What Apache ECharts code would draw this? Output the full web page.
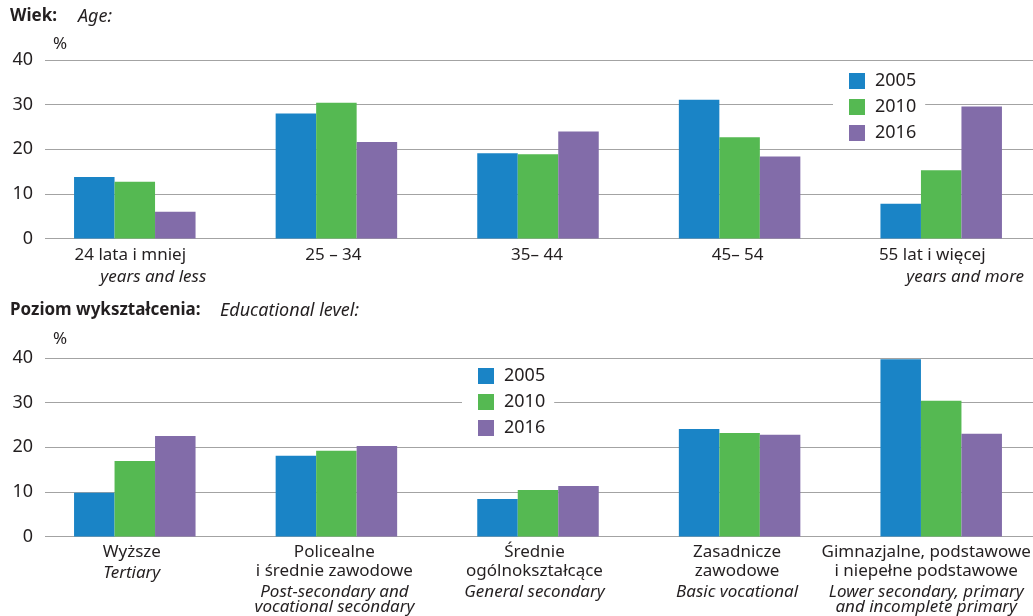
<!DOCTYPE html>
<html>
<head>
<meta charset="utf-8">
<script src="https://cdn.jsdelivr.net/npm/echarts@6/dist/echarts.min.js"></script>
<style>
html,body{margin:0;padding:0;background:#fff;}
#chart{width:1033px;height:616px;}
</style>
</head>
<body>
<div id="chart"></div>
<script>
// ---- data ----
const seriesNames = ['2005', '2010', '2016'];
const yTicks = [0, 10, 20, 30, 40];

const ageLabelsPl = ['24 lata i mniej', '25 – 34', '35– 44', '45– 54', '55 lat i więcej'];
const ageLabelsEn = [['years and less'], [], [], [], ['years and more']];
const age2005 = [13.8, 28.0, 19.1, 31.1, 7.8];
const age2010 = [12.7, 30.4, 18.9, 22.7, 15.3];
const age2016 = [6.0, 21.6, 24.0, 18.4, 29.6];

const eduLabelsPl = [['Wyższe'], ['Policealne', 'i średnie zawodowe'], ['Średnie', 'ogólnokształcące'], ['Zasadnicze', 'zawodowe'], ['Gimnazjalne, podstawowe', 'i niepełne podstawowe']];
const eduLabelsEn = [['Tertiary'], ['Post-secondary and', 'vocational secondary'], ['General secondary'], ['Basic vocational'], ['Lower secondary, primary', 'and incomplete primary']];
const edu2005 = [9.8, 18.1, 8.4, 24.1, 39.7];
const edu2010 = [16.9, 19.2, 10.4, 23.2, 30.4];
const edu2016 = [22.5, 20.3, 11.3, 22.8, 23.0];

// ---- styling ----
const colors = ['#1a84c6', '#55b952', '#826ca9'];
const FONT = '"Noto Sans", sans-serif';
const TXT = '#231f20';
const GRID_LINE = '#a3a3a3';

const topRegShift = [-4.5, -3, -1, -2, -9];
const topItShift = [18.5, 0, 0, 0, 24];
const botShift = [-3, -2, -3.5, -2.5, -15];

function pad(d) { return d < 0 ? [0, -2 * d, 0, 0] : [0, 0, 0, 2 * d]; }

const topRich = {}, botRich = {};
for (let i = 0; i < 5; i++) {
  topRich['r' + i] = { fontFamily: FONT, fontSize: 17, color: TXT, lineHeight: 19, padding: pad(topRegShift[i]) };
  topRich['a' + i] = { fontFamily: FONT, fontSize: 17, color: TXT, fontStyle: 'italic', lineHeight: 26, padding: pad(topItShift[i]) };
  botRich['r' + i] = { fontFamily: FONT, fontSize: 17, color: TXT, lineHeight: 19, padding: pad(botShift[i]) };
  botRich['a' + i] = { fontFamily: FONT, fontSize: 17, color: TXT, fontStyle: 'italic', lineHeight: 24, padding: pad(botShift[i]) };
  botRich['b' + i] = { fontFamily: FONT, fontSize: 17, color: TXT, fontStyle: 'italic', lineHeight: 6, padding: pad(botShift[i]) };
}

function topFormatter(v, idx) {
  const lines = ['{r' + idx + '|' + ageLabelsPl[idx] + '}'];
  ageLabelsEn[idx].forEach(t => lines.push('{a' + idx + '|' + t + '}'));
  return lines.join('\n');
}
function botFormatter(v, idx) {
  const lines = eduLabelsPl[idx].map(t => '{r' + idx + '|' + t + '}');
  eduLabelsEn[idx].forEach((t, k) => lines.push('{' + (k === 0 ? 'a' : 'b') + idx + '|' + t + '}'));
  return lines.join('\n');
}

const PLOT_TOP = [60, 358];
const PLOT_H = 178.5;

const grids = [];
const xAxes = [];
const yAxes = [];
[0, 1].forEach(c => {
  grids.push({ left: 45, right: 0, top: PLOT_TOP[c], height: PLOT_H, containLabel: false, outerBoundsMode: 'none' });
  grids.push({ left: 34, width: 1008, top: PLOT_TOP[c], height: PLOT_H, containLabel: false, outerBoundsMode: 'none' });
});
[0, 2].forEach(g => {
  xAxes.push({ type: 'value', gridIndex: g, show: false, min: 0, max: 1 });
  yAxes.push({
    type: 'value', gridIndex: g, min: yTicks[0], max: yTicks[yTicks.length - 1], interval: 10,
    axisLine: { show: false }, axisTick: { show: false },
    axisLabel: { margin: 12, fontFamily: FONT, fontSize: 18, color: TXT },
    splitLine: { lineStyle: { color: GRID_LINE, width: 1 } }
  });
});
xAxes.push({
  type: 'category', gridIndex: 1, data: ageLabelsPl,
  axisLine: { show: false }, axisTick: { show: false },
  axisLabel: { interval: 0, margin: 7, formatter: topFormatter, rich: topRich, color: TXT, hideOverlap: false }
});
yAxes.push({ type: 'value', gridIndex: 1, min: 0, max: 40, show: false, splitLine: { show: false } });
xAxes.push({
  type: 'category', gridIndex: 3, data: eduLabelsPl.map(l => l.join(' ')),
  axisLine: { show: false }, axisTick: { show: false },
  axisLabel: { interval: 0, margin: 6, formatter: botFormatter, rich: botRich, color: TXT, hideOverlap: false }
});
yAxes.push({ type: 'value', gridIndex: 3, min: 0, max: 40, show: false, splitLine: { show: false } });

function bars(name, data, xi, yi, ci) {
  return {
    type: 'bar', name: name, data: data, xAxisIndex: xi, yAxisIndex: yi,
    barWidth: 40.5, barGap: '0%', itemStyle: { color: colors[ci] }, silent: true, animation: false
  };
}

const series = [
  bars(seriesNames[0], age2005, 2, 2, 0),
  bars(seriesNames[1], age2010, 2, 2, 1),
  bars(seriesNames[2], age2016, 2, 2, 2),
  bars(seriesNames[0], edu2005, 3, 3, 0),
  bars(seriesNames[1], edu2010, 3, 3, 1),
  bars(seriesNames[2], edu2016, 3, 3, 2)
];

function legend(left, top, gap) {
  return {
    orient: 'vertical', left: left, top: top, data: seriesNames,
    backgroundColor: '#fff', padding: [4, 9, 4, 16],
    itemWidth: 16, itemHeight: 16, itemGap: gap, icon: 'rect',
    selectedMode: false,
    textStyle: { fontFamily: FONT, fontSize: 18, color: TXT, lineHeight: 16, padding: [0, 0, 0, 5] }
  };
}

const titleStyle = (txt, x, y, bold, italic, size) => ({
  type: 'text', left: x, top: y,
  style: { text: txt, fontFamily: FONT, fontSize: size, fontWeight: bold ? 'bold' : 'normal', fontStyle: italic ? 'italic' : 'normal', fill: TXT }
});

const option = {
  animation: false,
  grid: grids,
  xAxis: xAxes,
  yAxis: yAxes,
  series: series,
  legend: [legend(833, 68, 8), legend(462, 363, 8)],
  graphic: [
    titleStyle('Wiek:', 10, 8, true, false, 17),
    titleStyle('Age:', 78, 8, false, true, 18),
    titleStyle('%', 53, 36, false, false, 17),
    titleStyle('Poziom wykształcenia:', 10, 302, true, false, 17),
    titleStyle('Educational level:', 220, 302, false, true, 18),
    titleStyle('%', 53, 331, false, false, 17)
  ]
};

const chart = echarts.init(document.getElementById('chart'), null, { renderer: 'canvas' });
chart.setOption(option);
</script>
</body>
</html>
